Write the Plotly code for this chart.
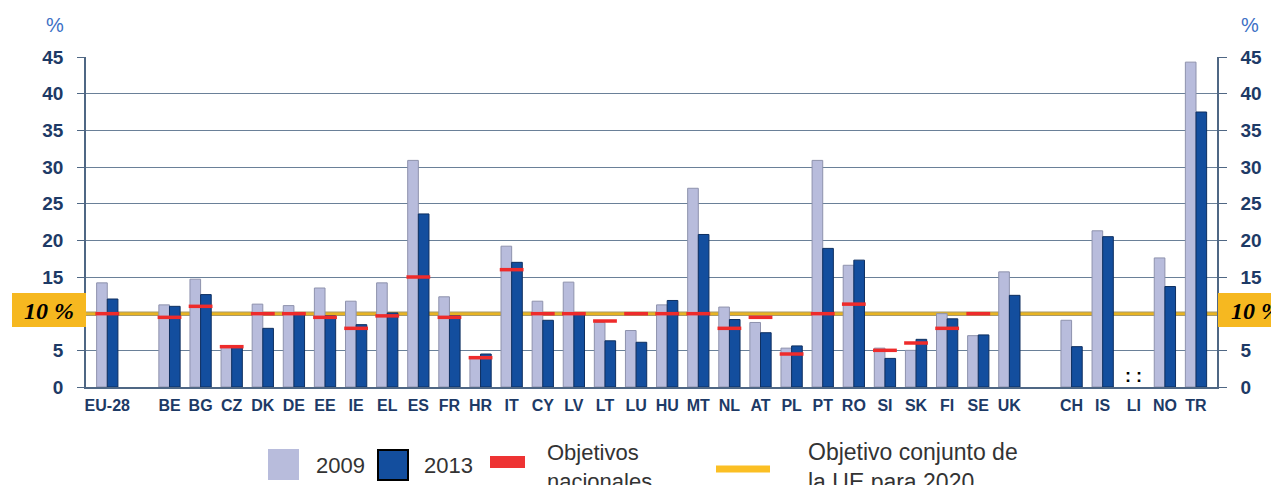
import plotly.graph_objects as go

# ---------------- data ----------------
categories = ["EU-28", "", "BE", "BG", "CZ", "DK", "DE", "EE", "IE", "EL", "ES", "FR",
              "HR", "IT", "CY", "LV", "LT", "LU", "HU", "MT", "NL", "AT", "PL", "PT",
              "RO", "SI", "SK", "FI", "SE", "UK", "", "CH", "IS", "LI", "NO", "TR"]

values_2009 = [14.2, None, 11.2, 14.7, 5.4, 11.3, 11.1, 13.5, 11.7, 14.2, 30.9, 12.3,
               4.0, 19.2, 11.7, 14.3, 8.8, 7.7, 11.2, 27.1, 10.9, 8.8, 5.3, 30.9,
               16.6, 5.3, 5.0, 10.0, 7.0, 15.7, None, 9.1, 21.3, None, 17.6, 44.3]

values_2013 = [12.0, None, 11.0, 12.6, 5.4, 8.0, 10.1, 9.7, 8.5, 10.1, 23.6, 9.7,
               4.5, 17.0, 9.1, 9.9, 6.3, 6.1, 11.8, 20.8, 9.2, 7.4, 5.6, 18.9,
               17.3, 3.9, 6.5, 9.3, 7.1, 12.5, None, 5.5, 20.5, None, 13.7, 37.5]

national_targets = [10.0, None, 9.5, 11.0, 5.5, 10.0, 10.0, 9.5, 8.0, 9.7, 15.0, 9.5,
                    4.0, 16.0, 10.0, 10.0, 9.0, 10.0, 10.0, 10.0, 8.0, 9.5, 4.5, 10.0,
                    11.3, 5.0, 6.0, 8.0, 10.0, None, None, None, None, None, None, None]

not_available = ["LI"]
eu_target = 10
y_ticks = [0, 5, 10, 15, 20, 25, 30, 35, 40, 45]
y_tick_labels = ["0", "5", "", "15", "20", "25", "30", "35", "40", "45"]

# ---------------- layout helpers ----------------
# the page body has an 8px margin, so the figure is drawn 8px smaller
OFF = 8
W, H = 1279 - OFF, 485 - OFF
L, R, T, B = 86, 1217, 57, 387          # plot area in page pixels
x_pos = list(range(len(categories)))
tick_pos = [i for i, c in enumerate(categories) if c]
tick_txt = [c for c in categories if c]
x_range = [-0.684, len(categories) - 1 + 0.675]


def px(x):
    return (x - L) / (R - L)


def py(y):
    return (B - y) / (B - T)


GRID = "#6a8098"
AXIS = "#4f6784"
NAVY = "#1d3a66"

fig = go.Figure()

fig.add_trace(go.Bar(x=x_pos, y=values_2009, name="2009",
                     marker=dict(color="#b8bcdc", line=dict(color="#8e92ad", width=1)),
                     yaxis="y"))
fig.add_trace(go.Bar(x=x_pos, y=values_2013, name="2013",
                     marker=dict(color="#134e9e", line=dict(color="#0e2f60", width=1)),
                     yaxis="y"))
fig.add_trace(go.Scatter(x=x_pos, y=national_targets, mode="markers",
                         name="Objetivos nacionales",
                         marker=dict(symbol="line-ew", size=17,
                                     line=dict(color="#ee2b2b", width=3.5)),
                         yaxis="y2"))

shapes = []
# EU 2020 joint target line
shapes.append(dict(type="line", xref="x", yref="y", x0=x_range[0], x1=x_range[1],
                   y0=eu_target, y1=eu_target, layer="between",
                   line=dict(color="#a89a6a", width=4.5)))
shapes.append(dict(type="line", xref="x", yref="y", x0=x_range[0], x1=x_range[1],
                   y0=eu_target, y1=eu_target, layer="between",
                   line=dict(color="#e8b422", width=2.5)))
# 10 % boxes
shapes.append(dict(type="rect", xref="paper", yref="paper", x0=px(12), x1=px(86),
                   y0=py(327), y1=py(293), fillcolor="#f6b820", line=dict(width=0)))
shapes.append(dict(type="rect", xref="paper", yref="paper", x0=px(1218), x1=px(1279),
                   y0=py(327), y1=py(293), fillcolor="#f6b820", line=dict(width=0)))
# legend symbols
shapes.append(dict(type="rect", xref="paper", yref="paper", x0=px(268), x1=px(299),
                   y0=py(480), y1=py(449), fillcolor="#b8bcdc", line=dict(width=0)))
shapes.append(dict(type="rect", xref="paper", yref="paper", x0=px(378), x1=px(408),
                   y0=py(480), y1=py(450), fillcolor="#134e9e",
                   line=dict(color="black", width=2)))
shapes.append(dict(type="rect", xref="paper", yref="paper", x0=px(490), x1=px(525),
                   y0=py(468), y1=py(456), fillcolor="#ee3333", line=dict(width=0)))
shapes.append(dict(type="line", xref="paper", yref="paper", x0=px(716), x1=px(770),
                   y0=py(469), y1=py(469), line=dict(color="#fbbf24", width=7)))

ann = []
for xp in (55, 1250):
    ann.append(dict(text="%", xref="paper", yref="paper", x=px(xp), y=py(25),
                    showarrow=False, xanchor="center", yanchor="middle",
                    font=dict(family="Liberation Sans", size=20, color="#3b6fc5")))
ann.append(dict(text="<b><i>10 %</i></b>", xref="paper", yref="paper", x=px(49), y=py(311),
                showarrow=False, xanchor="center", yanchor="middle",
                font=dict(family="Liberation Serif", size=24, color="black")))
ann.append(dict(text="<b><i>10 %</i></b>", xref="paper", yref="paper", x=px(1229), y=py(311),
                showarrow=False, xanchor="left", yanchor="middle",
                font=dict(family="Liberation Serif", size=24, color="black")))
for c in not_available:
    ann.append(dict(text="<b>: :</b>", xref="x", yref="paper", x=categories.index(c),
                    y=py(376), showarrow=False, xanchor="center", yanchor="middle",
                    font=dict(family="Liberation Sans", size=18, color="black")))
leg_font = dict(family="Liberation Sans", size=22, color="#333333")
ann.append(dict(text="2009", xref="paper", yref="paper", x=px(314), y=py(465),
                showarrow=False, xanchor="left", yanchor="middle", font=leg_font))
ann.append(dict(text="2013", xref="paper", yref="paper", x=px(422), y=py(465),
                showarrow=False, xanchor="left", yanchor="middle", font=leg_font))
ann.append(dict(text="Objetivos<br>nacionales", xref="paper", yref="paper", x=px(545),
                y=py(467), showarrow=False, xanchor="left", yanchor="middle",
                align="left", font=leg_font))
ann.append(dict(text="Objetivo conjunto de<br>la UE para 2020", xref="paper", yref="paper",
                x=px(806), y=py(467), showarrow=False, xanchor="left", yanchor="middle",
                align="left", font=dict(family="Liberation Sans", size=23, color="#333333")))

tickfont = dict(family="Liberation Sans", size=19, color=NAVY, weight=700)

fig.update_layout(
    width=W, height=H,
    margin=dict(l=L - OFF, r=1279 - R, t=T - OFF, b=485 - B, pad=0, autoexpand=False),
    paper_bgcolor="white", plot_bgcolor="white",
    barmode="group", bargap=0.316, bargroupgap=0,
    showlegend=False,
    shapes=shapes, annotations=ann,
    xaxis=dict(range=x_range, tickmode="array", tickvals=tick_pos, ticktext=tick_txt,
               automargin=False, ticklabelstandoff=3,
               showgrid=False, zeroline=False, showline=True, linecolor=AXIS, linewidth=1.5,
               ticks="", tickfont=dict(family="Liberation Sans", size=16, color=NAVY,
                                       weight=700)),
    yaxis=dict(range=[0, 45], tickmode="array", tickvals=y_ticks, ticktext=y_tick_labels,
               automargin=False, showgrid=True,
               gridcolor=GRID, gridwidth=1.2, zeroline=False, showline=True,
               linecolor=AXIS, linewidth=1.5, ticks="outside", ticklen=7, tickcolor=AXIS,
               tickfont=tickfont, ticklabelstandoff=10),
    yaxis2=dict(range=[0, 45], tickmode="array", tickvals=y_ticks, ticktext=y_tick_labels,
                automargin=False, overlaying="y",
                side="right", showgrid=False, zeroline=False, showline=True,
                linecolor=AXIS, linewidth=1.5, ticks="outside", ticklen=8, tickcolor=AXIS,
                tickfont=tickfont, ticklabelstandoff=10),
)

fig.write_html("out.html")
